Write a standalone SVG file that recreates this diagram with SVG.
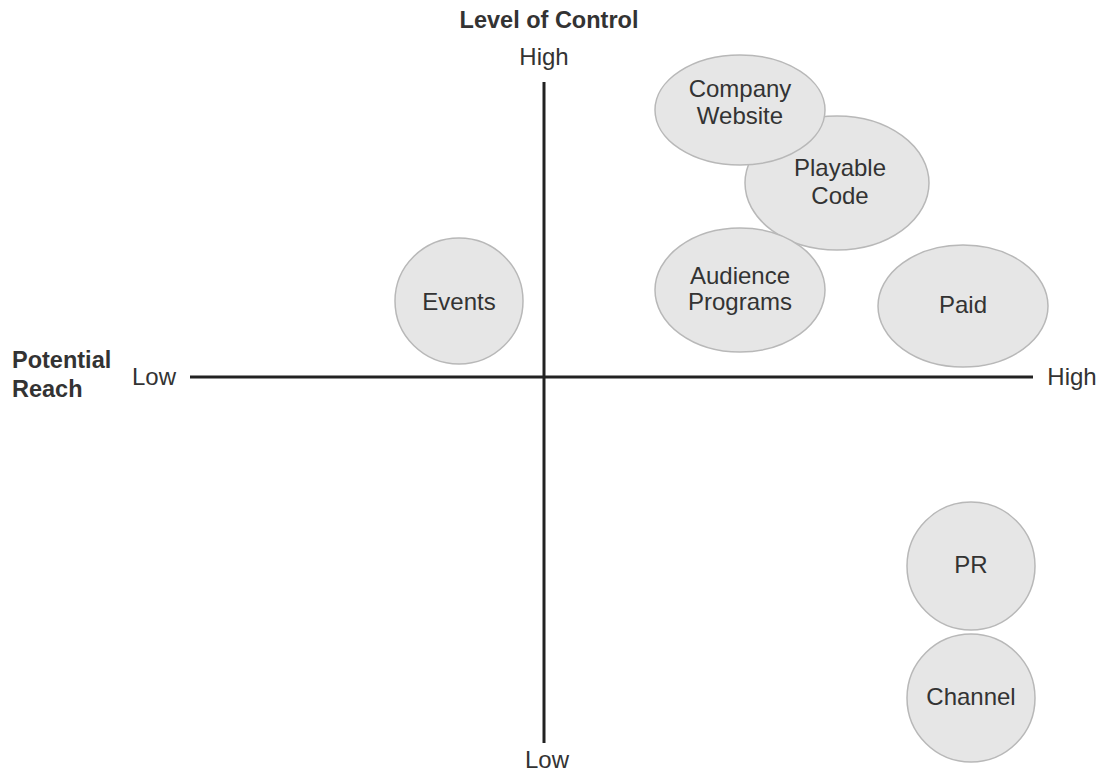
<svg xmlns="http://www.w3.org/2000/svg" width="1108" height="771" viewBox="0 0 1108 771">
<style>
.n{fill:#e6e6e6;stroke:#b8b8b8;stroke-width:1.5}
.t{font-family:"Liberation Sans",Arial,sans-serif;font-size:24px;fill:#333;text-anchor:middle}
.b{font-family:"Liberation Sans",Arial,sans-serif;font-size:23.5px;font-weight:bold;fill:#333}
.ax{stroke:#222;stroke-width:3;fill:none}
</style>
<rect width="1108" height="771" fill="#fff"/>
<g id="axes">
<line class="ax" x1="544" y1="82" x2="544" y2="743"/>
<line class="ax" x1="190" y1="377" x2="1033" y2="377"/>
</g>
<g id="labels">
<text class="b" x="549" y="28" text-anchor="middle">Level of Control</text>
<text class="t" x="544" y="65">High</text>
<text class="t" x="547" y="768">Low</text>
<text class="b" x="12" y="368">Potential</text>
<text class="b" x="12" y="397">Reach</text>
<text class="t" x="154" y="385">Low</text>
<text class="t" x="1072" y="385">High</text>
</g>
<g id="playable-code">
<ellipse class="n" cx="837" cy="183" rx="92" ry="67"/>
<text class="t" x="840" y="176">Playable</text>
<text class="t" x="840" y="204">Code</text>
</g>
<g id="company-website">
<ellipse class="n" cx="740" cy="110" rx="85" ry="55"/>
<text class="t" x="740" y="97">Company</text>
<text class="t" x="740" y="124">Website</text>
</g>
<g id="audience-programs">
<ellipse class="n" cx="740" cy="290" rx="85" ry="62"/>
<text class="t" x="740" y="284">Audience</text>
<text class="t" x="740" y="310">Programs</text>
</g>
<g id="events">
<ellipse class="n" cx="459" cy="301" rx="64" ry="63"/>
<text class="t" x="459" y="310">Events</text>
</g>
<g id="paid">
<ellipse class="n" cx="963" cy="306" rx="85" ry="61"/>
<text class="t" x="963" y="313">Paid</text>
</g>
<g id="pr">
<circle class="n" cx="971" cy="566" r="64"/>
<text class="t" x="971" y="573">PR</text>
</g>
<g id="channel">
<circle class="n" cx="971" cy="698" r="64"/>
<text class="t" x="971" y="705">Channel</text>
</g>
<g id="connectors"></g>
</svg>
